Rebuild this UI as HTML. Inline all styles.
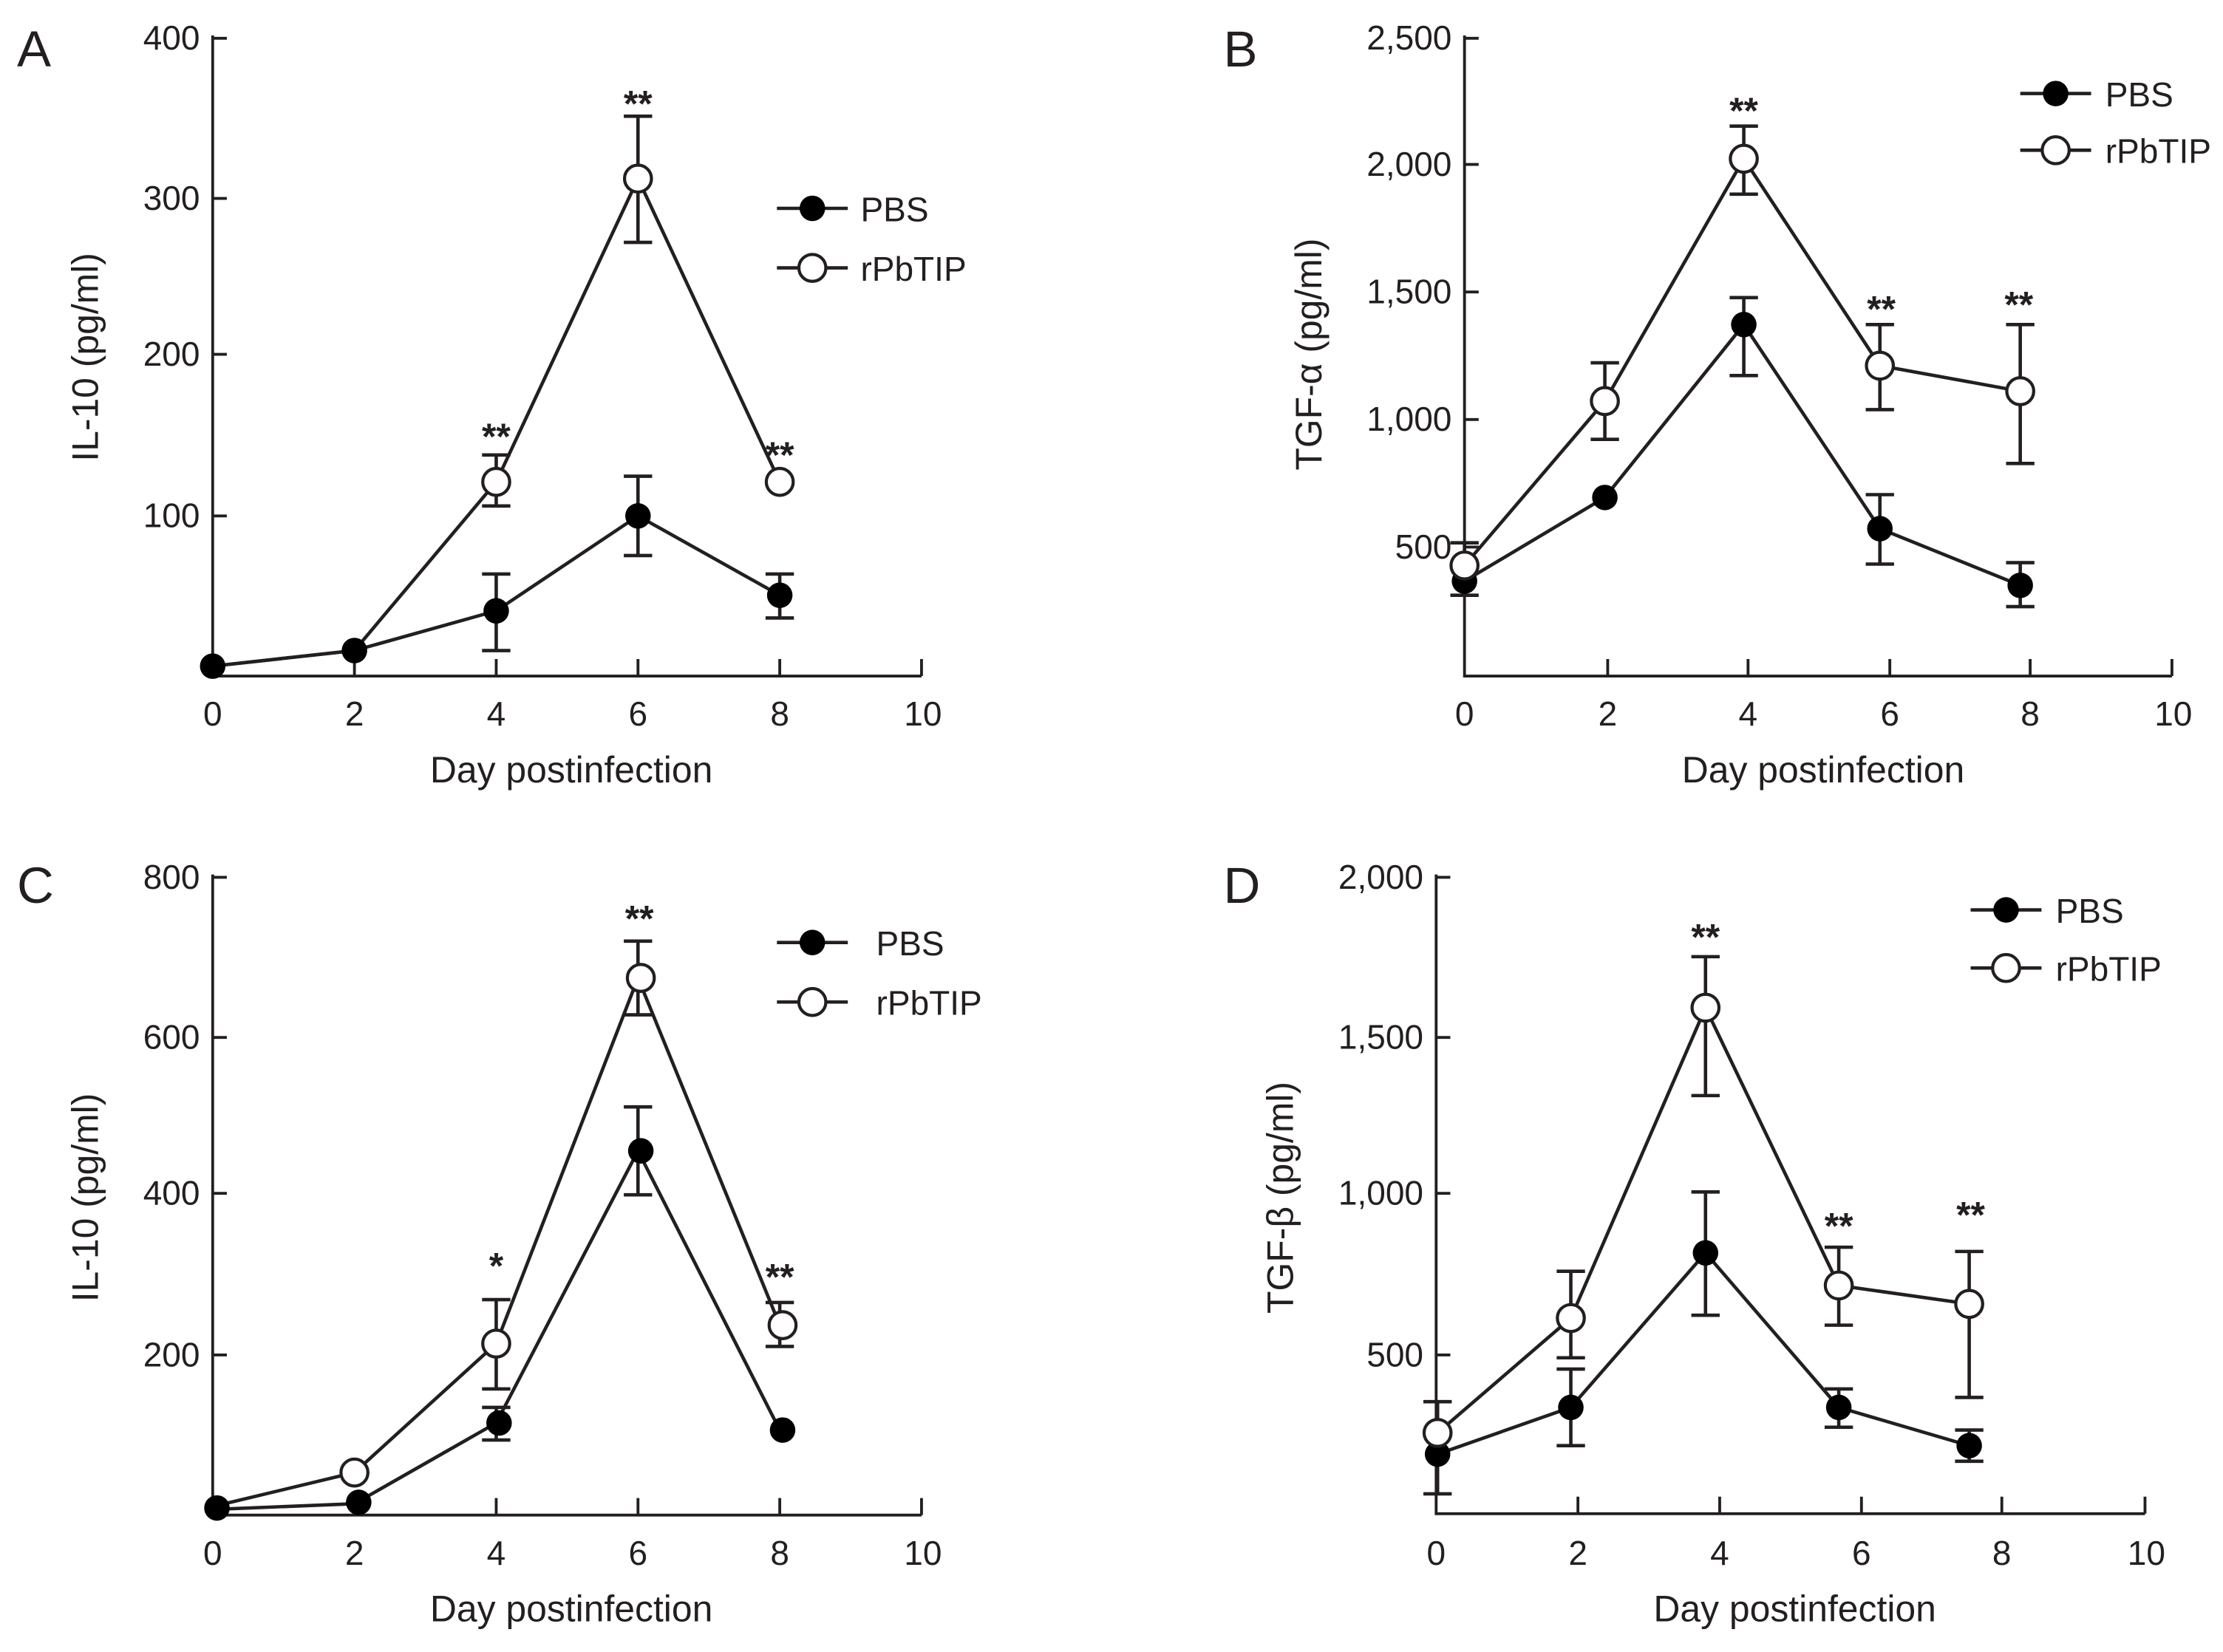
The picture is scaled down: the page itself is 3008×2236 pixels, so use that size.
<!DOCTYPE html>
<html><head><meta charset="utf-8"><style>
html,body{margin:0;padding:0;background:#fff}
svg{display:block}
text{font-family:"Liberation Sans Narrow","Liberation Sans",sans-serif;fill:#231f20}
</style></head><body>
<svg width="3008" height="2236" viewBox="0 0 1568 1165.6" xmlns="http://www.w3.org/2000/svg">
<g stroke="#231f20" stroke-width="2" fill="none">
<!-- Panel A axes -->
<path d="M150,25 V477 H650"/>
<path d="M150,27 h10 M150,140 h10 M150,250 h10 M150,364 h10"/>
<path d="M250,477 v-12 M350,477 v-12 M450,477 v-12 M550,477 v-12 M650,477 v-12"/>
<!-- Panel B axes -->
<path d="M1033,25 V477 H1532"/>
<path d="M1033,27 h10 M1033,116 h10 M1033,206 h10 M1033,296 h10 M1033,386 h10"/>
<path d="M1134,477 v-12 M1233,477 v-12 M1333,477 v-12 M1432,477 v-12 M1532,477 v-12"/>
<!-- Panel C axes -->
<path d="M150,617 V1069 H650"/>
<path d="M150,619 h10 M150,732 h10 M150,842 h10 M150,956 h10"/>
<path d="M250,1069 v-12 M350,1069 v-12 M450,1069 v-12 M550,1069 v-12 M650,1069 v-12"/>
<!-- Panel D axes -->
<path d="M1013,617 V1068 H1513"/>
<path d="M1013,619 h10 M1013,732 h10 M1013,842 h10 M1013,956 h10"/>
<path d="M1113,1068 v-12 M1213,1068 v-12 M1313,1068 v-12 M1412,1068 v-12 M1513,1068 v-12"/>
</g>

<g stroke="#231f20" stroke-width="2.4" fill="none">
<!-- A lines -->
<polyline points="150,470 250,459 350,431 450,364 550,420"/>
<polyline points="150,470 250,459 350,340 450,126 550,340"/>
<!-- A error bars -->
<path d="M350,405 V459 M340,405 h20 M340,459 h20"/>
<path d="M450,336 V392 M440,336 h20 M440,392 h20"/>
<path d="M550,405 V436 M540,405 h20 M540,436 h20"/>
<path d="M350,321 V357 M340,321 h20 M340,357 h20"/>
<path d="M450,82 V171 M440,82 h20 M440,171 h20"/>
<!-- B lines -->
<polyline points="1033,410 1132,351 1230,229 1326,373 1425,413"/>
<polyline points="1033,399 1132,283 1230,112 1326,258 1425,276"/>
<path d="M1230,210 V265 M1220,210 h20 M1220,265 h20"/>
<path d="M1326,349 V398 M1316,349 h20 M1316,398 h20"/>
<path d="M1425,397 V428 M1415,397 h20 M1415,428 h20"/>
<path d="M1132,256 V310 M1122,256 h20 M1122,310 h20"/>
<path d="M1230,89 V137 M1220,89 h20 M1220,137 h20"/>
<path d="M1326,229 V289 M1316,229 h20 M1316,289 h20"/>
<path d="M1425,229 V327 M1415,229 h20 M1415,327 h20"/>
<path d="M1033,383 V420 M1023,383 h20 M1023,420 h20"/>
<!-- C lines -->
<polyline points="150,1065 250,1061 350,1004 450,812 550,1009"/>
<polyline points="150,1063 250,1039 350,948 450,690 550,935"/>
<path d="M350,993 V1016 M340,993 h20 M340,1016 h20"/>
<path d="M450,781 V843 M440,781 h20 M440,843 h20"/>
<path d="M350,917 V980 M340,917 h20 M340,980 h20"/>
<path d="M450,664 V716 M440,664 h20 M440,716 h20"/>
<path d="M550,919 V950 M540,919 h20 M540,950 h20"/>
<!-- D lines -->
<polyline points="1014,1026 1108,993 1203,884 1297,993 1389,1020"/>
<polyline points="1014,1011 1108,930 1203,711 1297,907 1389,920"/>
<path d="M1014,989 V1054 M1004,989 h20 M1004,1054 h20"/>
<path d="M1108,966 V1020 M1098,966 h20 M1098,1020 h20"/>
<path d="M1203,841 V928 M1193,841 h20 M1193,928 h20"/>
<path d="M1297,980 V1007 M1287,980 h20 M1287,1007 h20"/>
<path d="M1389,1009 V1031 M1379,1009 h20 M1379,1031 h20"/>
<path d="M1108,897 V958 M1098,897 h20 M1098,958 h20"/>
<path d="M1203,675 V773 M1193,675 h20 M1193,773 h20"/>
<path d="M1297,880 V935 M1287,880 h20 M1287,935 h20"/>
<path d="M1389,883 V986 M1379,883 h20 M1379,986 h20"/>
<!-- legend lines -->
<path d="M548,147 h50 M548,189 h50 M1425,66 h50 M1425,106 h50 M548,665 h50 M548,707 h50 M1390,642 h50 M1390,683 h50"/>
</g>

<!-- filled markers -->
<g fill="#000">
<circle cx="150" cy="470" r="9"/><circle cx="250" cy="459" r="9"/><circle cx="350" cy="431" r="9"/><circle cx="450" cy="364" r="9"/><circle cx="550" cy="420" r="9"/>
<circle cx="1033" cy="410" r="9"/><circle cx="1132" cy="351" r="9"/><circle cx="1230" cy="229" r="9"/><circle cx="1326" cy="373" r="9"/><circle cx="1425" cy="413" r="9"/>
<circle cx="153" cy="1064" r="9"/><circle cx="253" cy="1060" r="9"/><circle cx="352" cy="1004" r="9"/><circle cx="452" cy="812" r="9"/><circle cx="552" cy="1009" r="9"/>
<circle cx="1014" cy="1026" r="9"/><circle cx="1108" cy="993" r="9"/><circle cx="1203" cy="884" r="9"/><circle cx="1297" cy="993" r="9"/><circle cx="1389" cy="1020" r="9"/>
<circle cx="573" cy="147" r="9"/><circle cx="1450" cy="66" r="9"/><circle cx="573" cy="665" r="9"/><circle cx="1415" cy="642" r="9"/>
</g>
<!-- open markers -->
<g fill="#fff" stroke="#231f20" stroke-width="2.2">
<circle cx="350" cy="340" r="9.5"/><circle cx="450" cy="126" r="9.5"/><circle cx="550" cy="340" r="9.5"/>
<circle cx="1033" cy="399" r="9.5"/><circle cx="1132" cy="283" r="9.5"/><circle cx="1230" cy="112" r="9.5"/><circle cx="1326" cy="258" r="9.5"/><circle cx="1425" cy="276" r="9.5"/>
<circle cx="250" cy="1039" r="9.5"/><circle cx="350" cy="948" r="9.5"/><circle cx="452" cy="690" r="9.5"/><circle cx="552" cy="935" r="9.5"/>
<circle cx="1014" cy="1011" r="9.5"/><circle cx="1108" cy="930" r="9.5"/><circle cx="1203" cy="711" r="9.5"/><circle cx="1297" cy="907" r="9.5"/><circle cx="1389" cy="920" r="9.5"/>
<circle cx="573" cy="189" r="9.5"/><circle cx="1450" cy="106" r="9.5"/><circle cx="573" cy="707" r="9.5"/><circle cx="1415" cy="683" r="9.5"/>
</g>

<!-- stars -->
<g font-size="26" font-weight="bold" text-anchor="middle">
<text x="350" y="317">**</text><text x="450" y="82">**</text><text x="550" y="330">**</text>
<text x="1230" y="87">**</text><text x="1327" y="227">**</text><text x="1424" y="224">**</text>
<text x="350" y="902">*</text><text x="451" y="657">**</text><text x="550" y="910">**</text>
<text x="1203" y="670">**</text><text x="1297" y="874">**</text><text x="1390" y="866">**</text>
</g>

<!-- panel letters -->
<g font-size="36" font-family="Liberation Sans">
<text x="12" y="47" style="font-family:'Liberation Sans',sans-serif">A</text>
<text x="863" y="47" style="font-family:'Liberation Sans',sans-serif">B</text>
<text x="12" y="637" style="font-family:'Liberation Sans',sans-serif">C</text>
<text x="863" y="637" style="font-family:'Liberation Sans',sans-serif">D</text>
</g>

<!-- y tick labels -->
<g font-size="24" text-anchor="end">
<text x="141" y="35">400</text><text x="141" y="148">300</text><text x="141" y="258">200</text><text x="141" y="372">100</text>
<text x="1024" y="35">2,500</text><text x="1024" y="124">2,000</text><text x="1024" y="214">1,500</text><text x="1024" y="304">1,000</text><text x="1024" y="394">500</text>
<text x="141" y="627">800</text><text x="141" y="740">600</text><text x="141" y="850">400</text><text x="141" y="964">200</text>
<text x="1004" y="627">2,000</text><text x="1004" y="740">1,500</text><text x="1004" y="850">1,000</text><text x="1004" y="964">500</text>
</g>
<!-- x tick labels -->
<g font-size="24" text-anchor="middle">
<text x="150" y="512">0</text><text x="250" y="512">2</text><text x="350" y="512">4</text><text x="450" y="512">6</text><text x="550" y="512">8</text><text x="651" y="512">10</text>
<text x="1033" y="512">0</text><text x="1134" y="512">2</text><text x="1233" y="512">4</text><text x="1333" y="512">6</text><text x="1432" y="512">8</text><text x="1533" y="512">10</text>
<text x="150" y="1104">0</text><text x="250" y="1104">2</text><text x="350" y="1104">4</text><text x="450" y="1104">6</text><text x="550" y="1104">8</text><text x="651" y="1104">10</text>
<text x="1013" y="1104">0</text><text x="1113" y="1104">2</text><text x="1213" y="1104">4</text><text x="1313" y="1104">6</text><text x="1412" y="1104">8</text><text x="1514" y="1104">10</text>
</g>
<!-- axis titles -->
<g font-size="26" text-anchor="middle">
<text x="403" y="552">Day postinfection</text>
<text x="1286" y="552">Day postinfection</text>
<text x="403" y="1144">Day postinfection</text>
<text x="1266" y="1144">Day postinfection</text>
<text transform="translate(69,252) rotate(-90)">IL-10 (pg/ml)</text>
<text transform="translate(932,250) rotate(-90)">TGF-α (pg/ml)</text>
<text transform="translate(69,845) rotate(-90)">IL-10 (pg/ml)</text>
<text transform="translate(912,845) rotate(-90)">TGF-β (pg/ml)</text>
</g>
<!-- legend text -->
<g font-size="24">
<text x="607" y="156">PBS</text><text x="607" y="198">rPbTIP</text>
<text x="1485" y="75">PBS</text><text x="1485" y="115">rPbTIP</text>
<text x="618" y="674">PBS</text><text x="618" y="716">rPbTIP</text>
<text x="1450" y="651">PBS</text><text x="1450" y="692">rPbTIP</text>
</g>
</svg>
</body></html>
